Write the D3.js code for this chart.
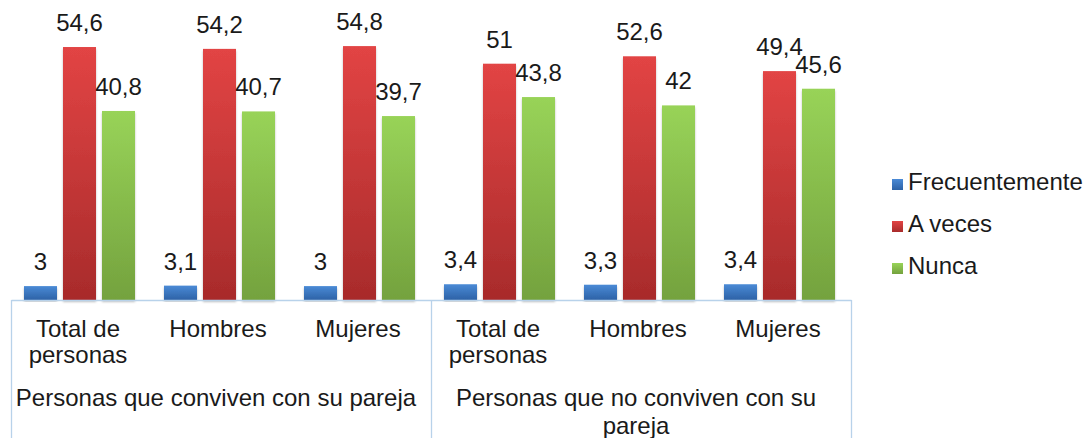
<!DOCTYPE html>
<html>
<head>
<meta charset="utf-8">
<script src="https://cdn.jsdelivr.net/npm/d3@7"></script>
<style>
  body { margin: 0; background: #fff; }
  svg text { font-family: "Liberation Sans", Arial, sans-serif; fill: #1a1a1a; }
</style>
</head>
<body>
<div id="chart"></div>
<script>
const categories = ["Total de|personas", "Hombres", "Mujeres", "Total de|personas", "Hombres", "Mujeres"];
const groupLabels = ["Personas que conviven con su pareja", "Personas que no conviven con su|pareja"];
const seriesNames = ["Frecuentemente", "A veces", "Nunca"];
const frecuentemente = [3, 3.1, 3, 3.4, 3.3, 3.4];
const aVeces = [54.6, 54.2, 54.8, 51, 52.6, 49.4];
const nunca = [40.8, 40.7, 39.7, 43.8, 42, 45.6];
const values = [frecuentemente, aVeces, nunca];

const w = 1085, h = 438;
const left = 11, right = 851, base = 300;
const colors = [["#4a8ad6", "#2d62a6"], ["#e24444", "#a82b2b"], ["#98d358", "#74a23e"]];

const svg = d3.select("#chart").append("svg")
  .attr("width", w)
  .attr("height", h);

const defs = svg.append("defs");
colors.forEach((c, i) => {
  const g = defs.append("linearGradient")
    .attr("id", "grad" + i)
    .attr("x1", 0).attr("y1", 0).attr("x2", 0).attr("y2", 1);
  g.append("stop").attr("offset", "0%").attr("stop-color", c[0]);
  g.append("stop").attr("offset", "100%").attr("stop-color", c[1]);
});
defs.append("filter").attr("id", "shadow")
  .attr("x", "-20%").attr("y", "-5%").attr("width", "140%").attr("height", "115%")
  .append("feDropShadow")
  .attr("dx", 0).attr("dy", 2).attr("stdDeviation", 1.2)
  .attr("flood-color", "#000").attr("flood-opacity", 0.25);

const x0 = d3.scaleBand()
  .domain(d3.range(categories.length))
  .range([left, right]);

const x1 = d3.scaleBand()
  .domain(d3.range(seriesNames.length))
  .range([13, 124])
  .paddingInner(0.154);

const y = d3.scaleLinear()
  .domain([0, 60])
  .range([base, 22]);

const fmt = v => String(v).replace(".", ",");

// bars
const groups = svg.selectAll(".grp")
  .data(categories)
  .enter()
  .append("g")
  .attr("class", "grp")
  .attr("transform", (d, i) => "translate(" + x0(i) + ",0)");

groups.each(function(d, gi) {
  const g = d3.select(this);
  g.selectAll("rect")
    .data(values.map((s, si) => ({ s: si, v: s[gi] })))
    .enter()
    .append("rect")
    .attr("x", d => x1(d.s))
    .attr("y", d => y(d.v))
    .attr("width", x1.bandwidth())
    .attr("height", d => base - y(d.v))
    .attr("fill", d => "url(#grad" + d.s + ")")
    .attr("filter", "url(#shadow)");

  g.selectAll(".val")
    .data(values.map((s, si) => ({ s: si, v: s[gi] })))
    .enter()
    .append("text")
    .attr("class", "val")
    .attr("x", d => x1(d.s) + x1.bandwidth() / 2)
    .attr("y", d => y(d.v) - 16)
    .attr("text-anchor", "middle")
    .style("font-size", "24px")
    .text(d => fmt(d.v));
});

// axis line and separators
const sep = d3.scaleLinear().domain([0, 6]).range([left, right]);
const axis = svg.append("g")
  .attr("transform", "translate(0," + base + ")")
  .call(d3.axisBottom(sep).tickValues([0, 3, 6]).tickSize(140).tickSizeOuter(0).tickFormat(""));
axis.selectAll("path, line").attr("stroke", "#b8d2ea").attr("stroke-width", 1.3);

// category labels
categories.forEach((c, i) => {
  const t = svg.append("text")
    .attr("text-anchor", "middle")
    .attr("x", x0(i) + x0.bandwidth() / 2 - 3)
    .attr("y", 337)
    .style("font-size", "24px");
  c.split("|").forEach((line, li) => {
    t.append("tspan")
      .attr("x", x0(i) + x0.bandwidth() / 2 - 3)
      .attr("dy", li === 0 ? 0 : 25.5)
      .text(line);
  });
});

// group labels
groupLabels.forEach((c, i) => {
  const cx = (sep(i * 3) + sep(i * 3 + 3)) / 2 - 5;
  const t = svg.append("text")
    .attr("text-anchor", "middle")
    .attr("x", cx)
    .attr("y", 406)
    .style("font-size", "24px");
  c.split("|").forEach((line, li) => {
    t.append("tspan")
      .attr("x", cx)
      .attr("dy", li === 0 ? 0 : 28)
      .text(line);
  });
});

// legend
const legend = svg.selectAll(".leg")
  .data(seriesNames)
  .enter()
  .append("g")
  .attr("class", "leg")
  .attr("transform", (d, i) => "translate(892," + (190 + i * 42) + ")");

legend.append("rect")
  .attr("x", 0).attr("y", -11)
  .attr("width", 11).attr("height", 11)
  .attr("fill", (d, i) => "url(#grad" + i + ")");

legend.append("text")
  .attr("x", 16)
  .attr("y", 0)
  .style("font-size", "24px")
  .text(d => d);
</script>
</body>
</html>
